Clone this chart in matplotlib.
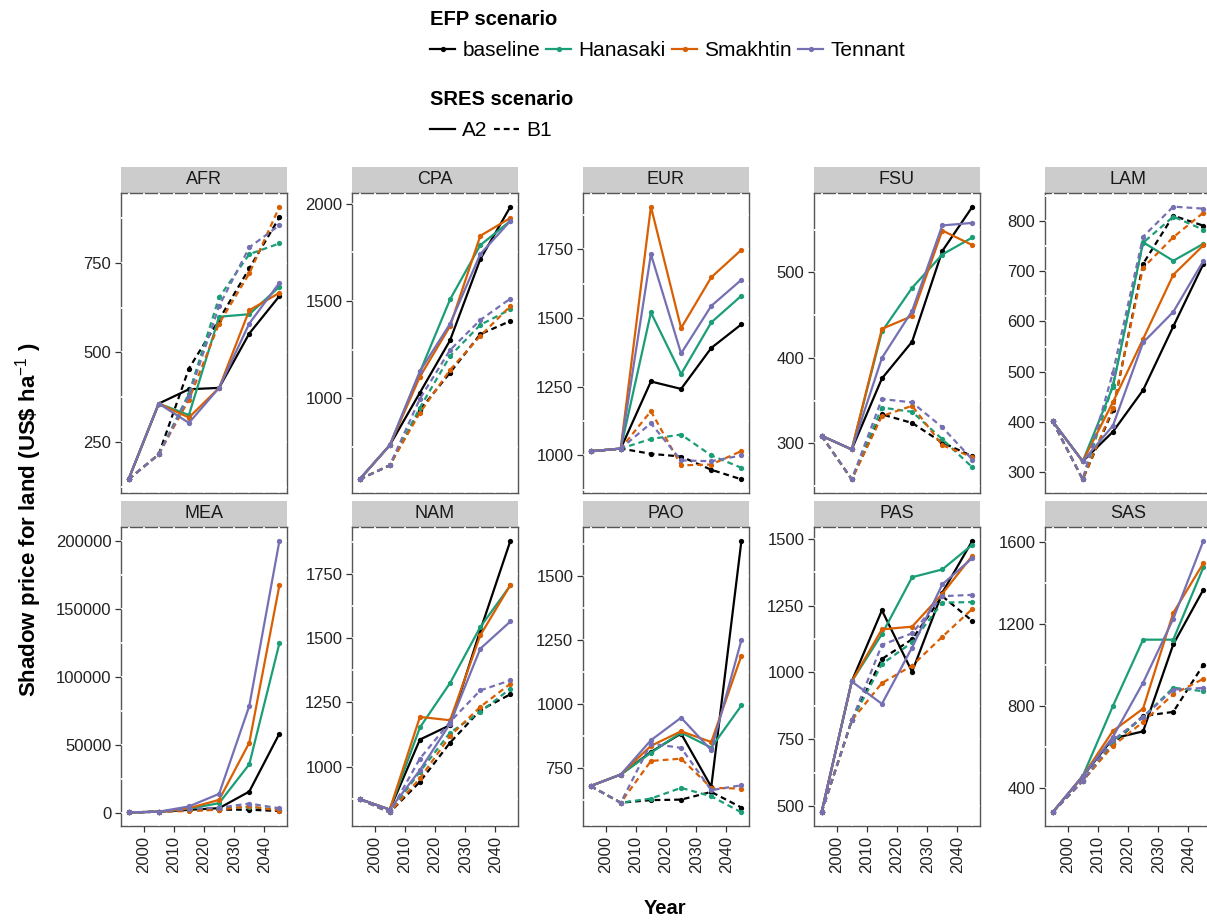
import matplotlib
matplotlib.use("Agg")
import matplotlib.pyplot as plt
from matplotlib.lines import Line2D
from matplotlib.patches import Rectangle
from matplotlib.ticker import FixedLocator, NullFormatter

plt.rcParams['font.family'] = ['Liberation Sans', 'DejaVu Sans']
plt.rcParams['mathtext.fontset'] = 'custom'
plt.rcParams['mathtext.rm'] = 'Liberation Sans'
plt.rcParams['mathtext.bf'] = 'Liberation Sans:bold'

# ---------------------------------------------------------------- data
years = [1995, 2005, 2015, 2025, 2035, 2045]
year_ticks = [2000, 2010, 2020, 2030, 2040]
efp_scenarios = ["baseline", "Hanasaki", "Smakhtin", "Tennant"]
efp_colours = ["#000000", "#1B9E77", "#D95F02", "#7570B3"]
sres_scenarios = ["A2", "B1"]
regions = ["AFR", "CPA", "EUR", "FSU", "LAM", "MEA", "NAM", "PAO", "PAS", "SAS"]

afr_a2 = {"baseline": [145, 357, 397, 401, 553, 658],
          "Hanasaki": [145, 357, 325, 600, 607, 684],
          "Smakhtin": [145, 357, 318, 401, 618, 667],
          "Tennant":  [145, 357, 303, 401, 581, 695]}
afr_b1 = {"baseline": [145, 215, 455, 592, 735, 878],
          "Hanasaki": [145, 215, 385, 654, 775, 805],
          "Smakhtin": [145, 215, 368, 581, 721, 908],
          "Tennant":  [145, 215, 378, 630, 794, 856]}

cpa_a2 = {"baseline": [584, 759, 1029, 1298, 1714, 1984],
          "Hanasaki": [584, 759, 1135, 1508, 1786, 1911],
          "Smakhtin": [584, 759, 1111, 1371, 1834, 1926],
          "Tennant":  [584, 759, 1139, 1383, 1740, 1911]}
cpa_b1 = {"baseline": [584, 656, 940, 1132, 1329, 1397],
          "Hanasaki": [584, 656, 952, 1217, 1377, 1457],
          "Smakhtin": [584, 656, 926, 1146, 1320, 1474],
          "Tennant":  [584, 656, 998, 1248, 1402, 1512]}

eur_a2 = {"baseline": [1015, 1025, 1269, 1242, 1391, 1477],
          "Hanasaki": [1015, 1025, 1520, 1296, 1484, 1581],
          "Smakhtin": [1015, 1025, 1905, 1463, 1648, 1748],
          "Tennant":  [1015, 1025, 1732, 1371, 1544, 1639]}
eur_b1 = {"baseline": [1015, 1025, 1006, 996, 948, 913],
          "Hanasaki": [1015, 1025, 1060, 1076, 1000, 955],
          "Smakhtin": [1015, 1025, 1161, 964, 967, 1016],
          "Tennant":  [1015, 1025, 1117, 982, 979, 1000]}

fsu_a2 = {"baseline": [309, 293, 376, 419, 525, 577],
          "Hanasaki": [309, 293, 431, 482, 521, 541],
          "Smakhtin": [309, 293, 434, 449, 549, 532],
          "Tennant":  [309, 293, 400, 455, 555, 558]}
fsu_b1 = {"baseline": [309, 258, 334, 324, 301, 285],
          "Hanasaki": [309, 258, 342, 337, 305, 272],
          "Smakhtin": [309, 258, 332, 344, 298, 284],
          "Tennant":  [309, 258, 352, 348, 319, 281]}

lam_a2 = {"baseline": [401, 321, 380, 463, 590, 715],
          "Hanasaki": [401, 321, 470, 758, 721, 755],
          "Smakhtin": [401, 321, 439, 565, 693, 752],
          "Tennant":  [401, 321, 392, 558, 619, 721]}
lam_b1 = {"baseline": [401, 285, 423, 715, 811, 791],
          "Hanasaki": [401, 285, 473, 757, 809, 783],
          "Smakhtin": [401, 285, 427, 707, 768, 817],
          "Tennant":  [401, 285, 498, 769, 829, 825]}

mea_a2 = {"baseline": [500, 1000, 2400, 3600, 15800, 58400],
          "Hanasaki": [500, 1000, 3200, 7300, 35800, 124800],
          "Smakhtin": [500, 1000, 3600, 9700, 51600, 167400],
          "Tennant":  [500, 1000, 4900, 14100, 78600, 200000]}
mea_b1 = {"baseline": [500, 1000, 2000, 2500, 2500, 1500],
          "Hanasaki": [500, 1000, 2500, 3500, 4500, 2500],
          "Smakhtin": [500, 1000, 1500, 2500, 5000, 1800],
          "Tennant":  [500, 1000, 3000, 4000, 7000, 3500]}

nam_a2 = {"baseline": [875, 834, 1106, 1162, 1530, 1879],
          "Hanasaki": [875, 834, 1153, 1326, 1543, 1705],
          "Smakhtin": [875, 834, 1194, 1181, 1511, 1707],
          "Tennant":  [875, 834, 987, 1168, 1459, 1565]}
nam_b1 = {"baseline": [875, 823, 942, 1094, 1220, 1282],
          "Hanasaki": [875, 823, 981, 1133, 1213, 1304],
          "Smakhtin": [875, 823, 955, 1120, 1233, 1323],
          "Tennant":  [875, 823, 1032, 1175, 1297, 1336]}

pao_a2 = {"baseline": [678, 723, 811, 883, 675, 1637],
          "Hanasaki": [678, 723, 808, 887, 828, 993],
          "Smakhtin": [678, 723, 835, 892, 850, 1188],
          "Tennant":  [678, 723, 857, 945, 818, 1249]}
pao_b1 = {"baseline": [678, 613, 623, 625, 655, 594],
          "Hanasaki": [678, 613, 629, 671, 638, 575],
          "Smakhtin": [678, 613, 776, 785, 671, 668],
          "Tennant":  [678, 613, 844, 827, 662, 681]}

pas_a2 = {"baseline": [476, 966, 1232, 1002, 1298, 1493],
          "Hanasaki": [476, 966, 1143, 1356, 1385, 1478],
          "Smakhtin": [476, 966, 1161, 1171, 1294, 1437],
          "Tennant":  [476, 966, 882, 1093, 1329, 1428]}
pas_b1 = {"baseline": [476, 820, 1050, 1124, 1285, 1192],
          "Hanasaki": [476, 820, 1031, 1112, 1261, 1263],
          "Smakhtin": [476, 820, 960, 1025, 1133, 1238],
          "Tennant":  [476, 820, 1103, 1146, 1285, 1290]}

sas_a2 = {"baseline": [280, 457, 641, 676, 1101, 1369],
          "Hanasaki": [280, 457, 800, 1124, 1124, 1478],
          "Smakhtin": [280, 457, 678, 787, 1255, 1498],
          "Tennant":  [280, 457, 649, 914, 1226, 1608]}
sas_b1 = {"baseline": [280, 434, 616, 751, 771, 1002],
          "Hanasaki": [280, 434, 624, 746, 889, 872],
          "Smakhtin": [280, 434, 605, 722, 857, 933],
          "Tennant":  [280, 434, 633, 746, 880, 888]}

y_ticks = {"AFR": [250, 500, 750],
           "CPA": [1000, 1500, 2000],
           "EUR": [1000, 1250, 1500, 1750],
           "FSU": [300, 400, 500],
           "LAM": [300, 400, 500, 600, 700, 800],
           "MEA": [0, 50000, 100000, 150000, 200000],
           "NAM": [1000, 1250, 1500, 1750],
           "PAO": [750, 1000, 1250, 1500],
           "PAS": [500, 750, 1000, 1250, 1500],
           "SAS": [400, 800, 1200, 1600]}

panel_data = {"AFR": (afr_a2, afr_b1), "CPA": (cpa_a2, cpa_b1),
              "EUR": (eur_a2, eur_b1), "FSU": (fsu_a2, fsu_b1),
              "LAM": (lam_a2, lam_b1), "MEA": (mea_a2, mea_b1),
              "NAM": (nam_a2, nam_b1), "PAO": (pao_a2, pao_b1),
              "PAS": (pas_a2, pas_b1), "SAS": (sas_a2, sas_b1)}

# ---------------------------------------------------------------- layout
W, H = 1207, 924
fig = plt.figure(figsize=(W / 100, H / 100), dpi=100)
fig.patch.set_facecolor("white")

col_x = [121, 352, 583, 814, 1045]
panel_w = 166
row_y = [(193, 493), (527, 826)]
strip_h = 26

linestyles = {"A2": "-", "B1": (0, (2.6, 1.8))}
LW = 1.6
MS = 3.8
tick_fs = 12
strip_fs = 13


def add_panel(i, region):
    r, c = divmod(i, 5)
    x0 = col_x[c]
    top, bot = row_y[r]
    ax = fig.add_axes([x0 / W, 1 - bot / H, panel_w / W, (bot - top) / H])
    a2, b1 = panel_data[region]
    for efp, colour in zip(efp_scenarios, efp_colours):
        for sres, series in zip(sres_scenarios, (a2, b1)):
            ax.plot(years, series[efp], color=colour, lw=LW,
                    ls=linestyles[sres], marker="o", ms=MS,
                    markeredgewidth=0, solid_capstyle="butt",
                    dash_capstyle="butt", zorder=2)
    ax.margins(x=0.05, y=0.05)

    ticks = y_ticks[region]
    ax.yaxis.set_major_locator(FixedLocator(ticks))
    step = ticks[1] - ticks[0]
    minor_y = [t - step / 2 for t in ticks] + [ticks[-1] + step / 2]
    ax.yaxis.set_minor_locator(FixedLocator(minor_y))
    ax.set_yticklabels([str(t) for t in ticks])
    ax.xaxis.set_major_locator(FixedLocator(year_ticks))
    ax.xaxis.set_minor_locator(FixedLocator(years))
    ax.yaxis.set_minor_formatter(NullFormatter())
    ax.xaxis.set_minor_formatter(NullFormatter())

    ax.tick_params(axis="both", which="major", direction="out", length=4,
                   width=0.9, color="#333333", labelsize=tick_fs,
                   labelcolor="#222222", pad=3)
    ax.tick_params(axis="both", which="minor", length=0)
    if r == 0:
        ax.tick_params(axis="x", which="major", length=0, labelbottom=False)
    else:
        for lab in ax.get_xticklabels():
            lab.set_rotation(90)

    # white grid lines sit above the frame, leaving small breaks in it
    ax.set_axisbelow(True)
    ax.grid(True, which="both", color="white", lw=1.3)
    for sp in ax.spines.values():
        sp.set_color("#555555")
        sp.set_linewidth(1.0)
        sp.set_zorder(0.3)

    # facet strip
    h = strip_h / (bot - top)
    ax.add_patch(Rectangle((0, 1.0 + 0.5 / (bot - top)), 1, h,
                           transform=ax.transAxes, clip_on=False,
                           facecolor="#cccccc", edgecolor="none", zorder=0.2))
    ax.text(0.5, 1 + h / 2 + 0.5 / (bot - top), region,
            transform=ax.transAxes, ha="center", va="center",
            fontsize=strip_fs, color="#1a1a1a")
    return ax


for i, region in enumerate(regions):
    add_panel(i, region)

# ---------------------------------------------------------------- labels
fig.text(665 / W, 1 - 909 / H, "Year", ha="center", va="center",
         fontsize=14.5, fontweight="bold")
fig.text(29 / W, 1 - 520 / H, r"Shadow price for land (US\$ ha$^{-1}$ )",
         ha="center", va="center", rotation=90, fontsize=16,
         fontweight="bold")

# ---------------------------------------------------------------- legends
efp_handles = [Line2D([], [], color=c, lw=LW, marker="o", ms=MS,
                      markeredgewidth=0) for c in efp_colours]
leg1 = fig.legend(efp_handles, efp_scenarios, loc="upper left",
                  bbox_to_anchor=(430 / W, 1 - 10 / H), ncol=4, frameon=False,
                  title="EFP scenario",
                  title_fontproperties={"weight": "bold", "size": 14.5},
                  fontsize=15, handlelength=1.2, handletextpad=0.35,
                  columnspacing=0.3, alignment="left", borderpad=0,
                  borderaxespad=0, labelspacing=0.6, numpoints=1)

sres_handles = [Line2D([], [], color="black", lw=LW, ls=linestyles[s])
                for s in sres_scenarios]
leg2 = fig.legend(sres_handles, sres_scenarios, loc="upper left",
                  bbox_to_anchor=(430 / W, 1 - 90 / H), ncol=2, frameon=False,
                  title="SRES scenario",
                  title_fontproperties={"weight": "bold", "size": 14.5},
                  fontsize=15, handlelength=1.2, handletextpad=0.35,
                  columnspacing=0.3, alignment="left", borderpad=0,
                  borderaxespad=0, labelspacing=0.6)

fig.savefig("out.png", dpi=100)
